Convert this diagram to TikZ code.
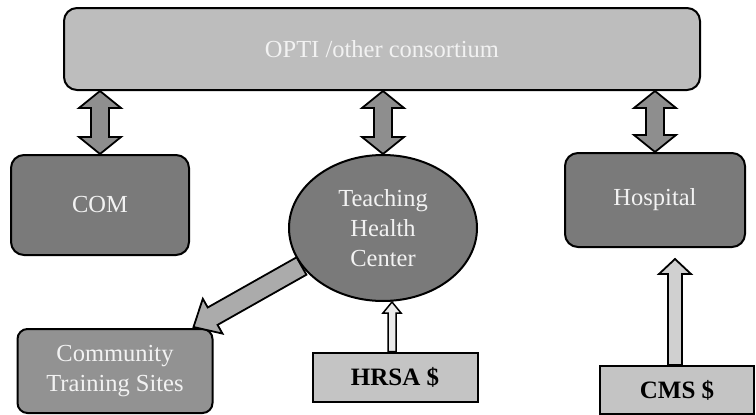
\documentclass[tikz,border=0pt]{standalone}
\usepackage{fontspec}
\setmainfont{Liberation Serif}
\usetikzlibrary{calc,shapes.geometric}
\definecolor{topfill}{HTML}{BDBDBD}
\definecolor{darkfill}{HTML}{7A7A7A}
\definecolor{ctsfill}{HTML}{929292}
\definecolor{fundfill}{HTML}{C4C4C4}
\definecolor{dblfill}{HTML}{8E8E8E}
\definecolor{diagfill}{HTML}{ABABAB}
\definecolor{txtw}{HTML}{F2F2F2}
\newcommand{\blkdbl}[6]{%
  \coordinate (dA) at (#2); \coordinate (dB) at (#3);
  \coordinate (dHA) at ($(dA)!#6!(dB)$);
  \coordinate (dHB) at ($(dB)!#6!(dA)$);
  \draw[#1] (dA) -- ($(dHA)!#5!90:(dB)$) -- ($(dHA)!#4!90:(dB)$) -- ($(dHB)!#4!-90:(dA)$) -- ($(dHB)!#5!-90:(dA)$) -- (dB)
     -- ($(dHB)!#5!90:(dA)$) -- ($(dHB)!#4!90:(dA)$) -- ($(dHA)!#4!-90:(dB)$) -- ($(dHA)!#5!-90:(dB)$) -- cycle;
}
\newcommand{\blksgl}[6]{%
  \coordinate (sA) at (#2); \coordinate (sB) at (#3);
  \coordinate (sHB) at ($(sB)!#6!(sA)$);
  \draw[#1] ($(sA)!#4!90:(sB)$) -- ($(sHB)!#4!-90:(sA)$) -- ($(sHB)!#5!-90:(sA)$) -- (sB)
     -- ($(sHB)!#5!90:(sA)$) -- ($(sHB)!#4!90:(sA)$) -- ($(sA)!#4!-90:(sB)$) -- cycle;
}
\begin{document}
\begin{tikzpicture}[x=1pt,y=-1pt,
  lbl/.style={font=\fontsize{24.5}{30}\selectfont,align=center,inner sep=0pt},
  rbox/.style={lbl,draw=black,line width=2pt,rounded corners=13pt,text=txtw},
  fundbox/.style={lbl,draw=black,line width=2pt,fill=fundfill,font=\fontsize{25}{28}\selectfont\bfseries,text=black},
  blk/.style={draw=black,line width=1.8pt,line join=miter}]
\useasboundingbox (0,0) rectangle (756,415);
\node[rbox,fill=topfill,minimum width=636pt,minimum height=82pt] (top) at (382,49) {OPTI /other consortium};
\node[rbox,fill=darkfill,minimum width=178pt,minimum height=100pt] (com) at (100,205) {COM};
\node[lbl,draw=black,line width=2pt,ellipse,fill=darkfill,text=txtw,minimum width=188pt,minimum height=146pt] (thc) at (383,228) {Teaching\\Health\\Center};
\node[rbox,fill=darkfill,minimum width=180pt,minimum height=94pt] (hosp) at (655,200) {Hospital};
\node[rbox,fill=ctsfill,minimum width=195pt,minimum height=84pt,rounded corners=10pt] (cts) at (115,371) {Community\\Training Sites};
\node[fundbox,minimum width=165pt,minimum height=49pt] (hrsa) at (395,377) {HRSA \$};
\node[fundbox,minimum width=154pt,minimum height=48pt] (cms) at (677,390) {CMS \$};
\coordinate (ctsTip) at ([xshift=-20pt,yshift=1pt]cts.north east);
\coordinate (hospIn) at ([xshift=20pt,yshift=-11pt]hosp.south);
\blkdbl{blk,fill=dblfill}{top.south -| com.north}{com.north}{9pt}{21pt}{17pt}
\blkdbl{blk,fill=dblfill}{top.south -| thc.north}{thc.north}{9pt}{21pt}{17pt}
\blkdbl{blk,fill=dblfill}{top.south -| hosp.north}{hosp.north}{9pt}{21pt}{17pt}
\blksgl{blk,fill=diagfill}{thc.205}{ctsTip}{10pt}{20pt}{22pt}
\blksgl{blk,line width=1.5pt,fill=white!92!black}{[xshift=-3pt]hrsa.north}{[xshift=-3pt]hrsa.north |- thc.south}{4pt}{9pt}{11pt}
\blksgl{blk,fill=fundfill!80!white}{cms.north -| hospIn}{hospIn}{7pt}{16pt}{15pt}
\end{tikzpicture}
\end{document}
